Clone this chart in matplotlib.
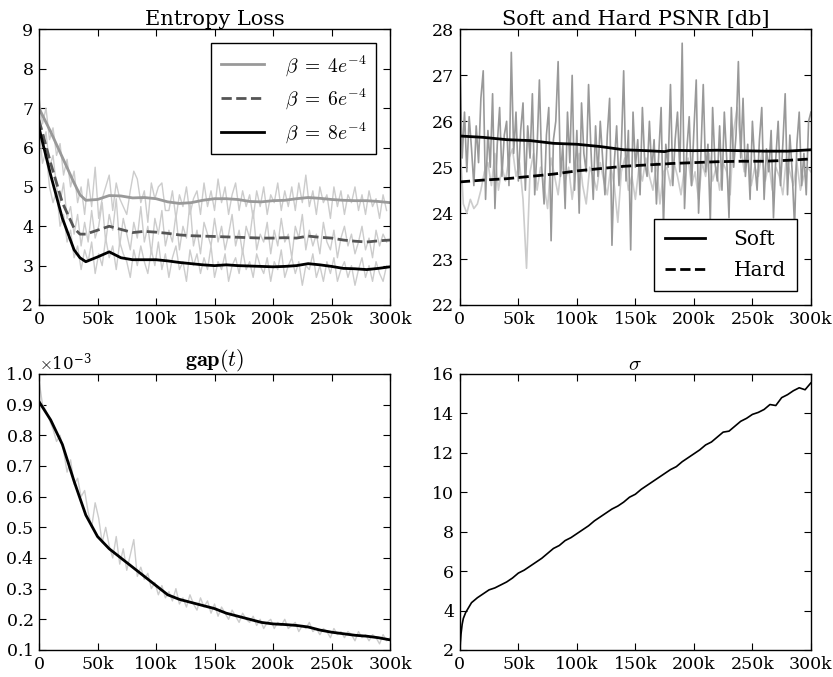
import numpy as np
import matplotlib
matplotlib.use("Agg")
import matplotlib.pyplot as plt
from matplotlib.ticker import FuncFormatter

# ---- data (steps in thousands) ----
ent_steps = [0, 10, 20, 30, 35, 40, 50, 60, 70, 80, 90, 100, 110, 120, 130, 140, 150,
             160, 170, 180, 190, 200, 210, 220, 230, 240, 250, 260, 270, 280, 290, 300]
ent_b4 = [7.0, 6.4, 5.75, 5.1, 4.8, 4.66, 4.68, 4.78, 4.77, 4.72, 4.73, 4.7, 4.62, 4.58,
          4.6, 4.66, 4.7, 4.7, 4.68, 4.63, 4.62, 4.65, 4.66, 4.7, 4.73, 4.71, 4.68, 4.66,
          4.65, 4.65, 4.63, 4.6]
ent_b6 = [6.7, 5.6, 4.6, 3.95, 3.8, 3.8, 3.9, 4.0, 3.92, 3.84, 3.87, 3.85, 3.82, 3.78,
          3.76, 3.75, 3.74, 3.73, 3.72, 3.71, 3.7, 3.7, 3.71, 3.7, 3.75, 3.72, 3.7, 3.65,
          3.62, 3.6, 3.63, 3.65]
ent_b8 = [6.5, 5.3, 4.2, 3.4, 3.2, 3.1, 3.22, 3.35, 3.2, 3.15, 3.15, 3.15, 3.12, 3.08,
          3.05, 3.02, 3.0, 3.02, 3.0, 2.99, 2.98, 2.97, 2.98, 3.0, 3.05, 3.02, 2.98, 2.93,
          2.92, 2.9, 2.93, 2.97]

raw_steps = list(range(0, 300, 3))
ent_b4_raw = [7.3, 6.6, 7.0, 6.2, 6.5, 5.8, 6.1, 5.3, 5.7, 5.0, 5.4, 4.6, 5.0, 4.3, 5.2,
              4.5, 5.5, 4.2, 4.7, 5.0, 5.3, 4.4, 5.1, 4.7, 4.5, 4.3, 4.9, 5.4, 5.2, 4.6,
              4.9, 4.1, 5.1, 4.7, 5.0, 5.1, 4.4, 4.4, 4.9, 4.2, 4.8, 4.5, 5.0, 4.3, 4.7,
              4.9, 4.3, 5.1, 4.5, 4.9, 4.4, 5.2, 4.6, 5.0, 4.3, 4.8, 5.1, 4.4, 4.9, 4.5,
              4.8, 4.2, 4.9, 4.5, 5.0, 4.3, 4.8, 4.6, 5.1, 4.4, 4.9, 4.5, 5.0, 4.4, 5.1,
              4.6, 5.3, 4.5, 4.9, 4.3, 5.0, 4.6, 4.8, 4.2, 5.0, 4.5, 4.9, 4.3, 4.8, 4.6,
              5.0, 4.4, 4.8, 4.3, 4.9, 4.5, 4.7, 4.2, 4.8, 4.4]
ent_b6_raw = [6.9, 6.0, 6.4, 5.5, 5.8, 5.0, 4.6, 5.1, 4.2, 4.5, 3.8, 4.3, 3.5, 4.1, 3.6,
              4.4, 3.7, 4.0, 4.6, 3.6, 4.3, 3.9, 4.7, 3.5, 4.2, 3.8, 3.4, 4.1, 3.7, 4.5,
              3.6, 4.0, 3.3, 4.2, 3.8, 4.4, 3.5, 3.9, 3.6, 4.3, 3.4, 4.0, 3.7, 4.6, 3.5,
              3.9, 3.3, 4.1, 3.8, 3.5, 4.2, 3.6, 4.0, 3.4, 3.8, 4.3, 3.5, 3.9, 3.3, 4.0,
              3.7, 4.4, 3.4, 3.8, 3.6, 4.1, 3.3, 3.9, 3.5, 4.2, 3.6, 3.8, 3.2, 4.0, 3.7,
              4.3, 3.4, 3.9, 3.5, 3.8, 3.3, 4.1, 3.6, 3.4, 3.9, 3.2, 3.7, 4.0, 3.5, 3.8,
              3.3, 3.6, 4.0, 3.4, 3.7, 3.2, 3.9, 3.5, 3.8, 3.6]
ent_b8_raw = [6.5, 5.6, 5.9, 5.0, 4.6, 4.9, 4.0, 4.3, 3.6, 3.9, 3.2, 3.5, 2.9, 3.4, 3.1,
              3.6, 2.8, 3.3, 3.0, 3.7, 3.2, 3.5, 2.9, 3.6, 3.3, 3.1, 2.7, 3.4, 3.0, 3.5,
              3.1, 2.8, 3.4, 3.0, 3.6, 2.9, 3.3, 2.7, 3.2, 3.5, 2.9, 3.1, 2.6, 3.4, 3.0,
              3.3, 2.8, 3.2, 2.9, 3.5, 2.7, 3.1, 2.9, 3.3, 2.6, 3.0, 3.2, 2.8, 3.4, 2.9,
              3.1, 2.7, 3.3, 3.0, 2.8, 3.2, 2.6, 3.1, 2.9, 3.4, 2.7, 3.0, 3.2, 2.8, 3.1,
              2.5, 3.0, 2.9, 3.3, 2.7, 3.0, 2.6, 3.1, 2.8, 3.2, 2.6, 2.9, 3.1, 2.7, 3.0,
              2.5, 2.9, 3.2, 2.7, 3.0, 2.6, 3.1, 2.8, 2.6, 3.0]

psnr_steps = [0, 20, 40, 60, 80, 100, 120, 140, 160, 175, 180, 200, 220, 240, 260, 280, 300]
psnr_soft = [25.68, 25.65, 25.6, 25.58, 25.52, 25.5, 25.45, 25.38, 25.36, 25.34, 25.37,
             25.36, 25.37, 25.36, 25.35, 25.35, 25.38]
psnr_hard = [24.68, 24.72, 24.75, 24.8, 24.85, 24.92, 24.97, 25.02, 25.05, 25.07, 25.08,
             25.1, 25.12, 25.13, 25.13, 25.15, 25.18]

soft_raw_steps = list(range(0, 302, 2))
psnr_soft_raw = [27.4, 25.2, 26.2, 24.9, 26.1, 25.4, 24.6, 25.9, 25.1, 26.5,
                 27.1, 24.3, 25.8, 25.0, 26.6, 24.1, 25.5, 26.3, 24.8, 25.7,
                 26.0, 24.6, 27.5, 25.3, 26.2, 24.7, 25.8, 26.4, 24.5, 25.9,
                 25.2, 26.6, 24.4, 25.4, 26.9, 25.0, 24.2, 25.7, 26.3, 23.4,
                 25.6, 26.0, 27.3, 24.8, 25.5, 24.1, 26.2, 25.1, 27.0, 24.5,
                 25.8, 24.0, 26.4, 25.3, 24.9, 26.8, 25.4, 24.3, 25.9, 24.8,
                 26.0, 25.2, 24.4, 25.7, 26.5, 23.3, 25.1, 25.9, 24.6, 25.4,
                 27.1, 24.7, 25.8, 23.2, 26.2, 25.0, 25.6, 24.4, 26.3, 25.1,
                 24.8, 26.0, 24.9, 25.6, 24.2, 25.3, 26.3, 23.7, 25.5, 25.0,
                 26.8, 24.6, 25.6, 26.2, 24.9, 27.7, 24.1, 25.4, 26.1, 24.6,
                 25.8, 26.9, 24.0, 25.3, 26.8, 24.9, 25.5, 23.8, 26.3, 25.1,
                 24.7, 25.9, 24.5, 26.2, 25.2, 23.9, 26.3, 25.0, 25.7, 27.3,
                 25.2, 26.5, 24.8, 25.5, 24.3, 26.0, 25.1, 24.5, 25.6, 26.3,
                 24.3, 25.4, 24.9, 25.8, 23.9, 25.2, 26.0, 24.6, 25.5, 26.6,
                 24.4, 25.7, 24.9, 23.7, 25.5, 26.2, 24.6, 25.3, 24.4, 26.0,
                 26.2]
hard_raw_steps = list(range(0, 303, 3))
psnr_hard_raw = [25.6, 24.2, 24.0, 24.3, 24.1, 24.2, 24.5, 24.9, 25.1, 24.6,
                 25.3, 24.5, 25.0, 24.7, 25.2, 25.4, 24.8, 25.1, 24.3, 22.8,
                 24.9, 25.3, 24.5, 25.0, 24.6, 24.1, 25.2, 24.8, 24.4, 25.1,
                 24.7, 25.0, 24.3, 24.9, 25.3, 24.6, 24.2, 25.0, 24.8, 24.5,
                 25.1, 24.7, 24.4, 25.0, 24.6, 23.8, 24.9, 25.2, 24.5, 24.8,
                 24.3, 25.0, 24.7, 25.2, 24.8, 24.5, 25.1, 24.2, 24.9, 25.0,
                 24.6, 25.1, 24.8, 24.4, 25.0, 25.2, 24.6, 24.9, 24.3, 25.1,
                 24.8, 25.3, 24.7, 25.0, 24.5, 25.1, 24.9, 24.4, 25.8, 26.3,
                 25.5, 24.9, 25.2, 24.6, 25.0, 24.8, 25.3, 24.7, 25.1, 24.5,
                 25.0, 24.8, 24.4, 25.2, 24.9, 24.6, 25.1, 24.5, 24.8, 25.0,
                 24.9]

gap_steps = [0, 10, 20, 30, 40, 50, 60, 70, 80, 90, 100, 110, 120, 130, 140, 150, 160,
             170, 180, 190, 200, 210, 220, 230, 240, 250, 260, 270, 280, 290, 300]
gap_smooth = [0.91, 0.85, 0.77, 0.65, 0.54, 0.47, 0.43, 0.40, 0.37, 0.34, 0.31, 0.28,
              0.265, 0.255, 0.245, 0.235, 0.22, 0.21, 0.20, 0.19, 0.185, 0.183, 0.18,
              0.175, 0.165, 0.158, 0.153, 0.148, 0.145, 0.14, 0.133]
gap_raw_steps = list(range(0, 303, 3))
gap_raw = [0.98, 0.90, 0.88, 0.85, 0.82, 0.78, 0.80, 0.75, 0.68, 0.72,
           0.64, 0.66, 0.60, 0.62, 0.55, 0.50, 0.58, 0.53, 0.45, 0.50,
           0.44, 0.40, 0.47, 0.38, 0.43, 0.36, 0.41, 0.46, 0.34, 0.37,
           0.33, 0.35, 0.30, 0.32, 0.28, 0.31, 0.27, 0.29, 0.26, 0.30,
           0.25, 0.27, 0.24, 0.28, 0.25, 0.23, 0.27, 0.24, 0.26, 0.22,
           0.25, 0.21, 0.24, 0.22, 0.20, 0.23, 0.21, 0.19, 0.22, 0.20,
           0.19, 0.21, 0.18, 0.20, 0.17, 0.19, 0.20, 0.17, 0.19, 0.18,
           0.20, 0.17, 0.18, 0.19, 0.16, 0.18, 0.17, 0.19, 0.16, 0.17,
           0.15, 0.17, 0.16, 0.14, 0.17, 0.15, 0.16, 0.14, 0.16, 0.15,
           0.13, 0.16, 0.14, 0.15, 0.13, 0.15, 0.14, 0.12, 0.15, 0.13,
           0.14]
gap_ticks = [0.1, 0.2, 0.3, 0.4, 0.5, 0.6, 0.7, 0.8, 0.9, 1.0]

sigma_steps = [0, 1, 2, 3, 5] + list(range(10, 305, 5))
sigma = [2.0, 2.8, 3.3, 3.6, 3.9, 4.4, 4.65, 4.85, 5.05, 5.15, 5.3, 5.45, 5.65, 5.9,
         6.05, 6.25, 6.45, 6.65, 6.9, 7.15, 7.3, 7.55, 7.7, 7.9, 8.1, 8.3, 8.55, 8.75,
         8.95, 9.15, 9.3, 9.5, 9.75, 9.9, 10.15, 10.35, 10.55, 10.75, 10.95, 11.15,
         11.3, 11.55, 11.75, 11.95, 12.15, 12.4, 12.55, 12.8, 13.05, 13.1, 13.35, 13.6,
         13.75, 13.95, 14.05, 14.2, 14.45, 14.4, 14.8, 14.95, 15.15, 15.3, 15.2, 15.55]

# ---- style ----
plt.rcParams["font.family"] = ["DejaVu Serif"]
plt.rcParams["mathtext.fontset"] = "cm"
plt.rcParams["xtick.direction"] = "in"
plt.rcParams["ytick.direction"] = "in"
plt.rcParams["xtick.top"] = True
plt.rcParams["ytick.right"] = True
plt.rcParams["xtick.major.size"] = 5
plt.rcParams["ytick.major.size"] = 5
plt.rcParams["xtick.major.pad"] = 4
plt.rcParams["ytick.major.pad"] = 4
plt.rcParams["xtick.labelsize"] = 12.5
plt.rcParams["ytick.labelsize"] = 12.5
plt.rcParams["axes.linewidth"] = 1.0
plt.rcParams["legend.fancybox"] = False
plt.rcParams["legend.edgecolor"] = "black"
plt.rcParams["legend.framealpha"] = 1.0

fig = plt.figure(figsize=(8.33, 6.77), dpi=100)
ax1 = fig.add_axes([0.0468, 0.5495, 0.4215, 0.407])
ax2 = fig.add_axes([0.552, 0.5495, 0.4215, 0.407])
ax3 = fig.add_axes([0.0468, 0.0399, 0.4215, 0.4077])
ax4 = fig.add_axes([0.552, 0.0399, 0.4215, 0.4077])

kfmt = FuncFormatter(lambda v, p: "0" if v == 0 else f"{int(v)}k")
light = "#cccccc"

# Entropy loss
for raw in (ent_b4_raw, ent_b6_raw, ent_b8_raw):
    ax1.plot(raw_steps, raw, color=light, lw=1)
ax1.plot(ent_steps, ent_b4, color="#999999", lw=2, label=r"$\beta\;=\;4e^{-4}$")
ax1.plot(ent_steps, ent_b6, color="#555555", lw=2, ls="--", label=r"$\beta\;=\;6e^{-4}$")
ax1.plot(ent_steps, ent_b8, color="black", lw=2, label=r"$\beta\;=\;8e^{-4}$")
ax1.set_xlim(0, 300)
ax1.set_ylim(2, 9)
ax1.set_title("Entropy Loss", fontsize=15, pad=3)
ax1.legend(loc="upper right", fontsize=14, handlelength=2.2, handletextpad=1.1,
           borderpad=0.5, labelspacing=0.45, borderaxespad=0.7)

# PSNR
ax2.plot(hard_raw_steps, psnr_hard_raw, color="#cccccc", lw=1.2)
ax2.plot(soft_raw_steps, psnr_soft_raw, color="#999999", lw=1.2)
ax2.plot(psnr_steps, psnr_soft, color="black", lw=2, label="Soft")
ax2.plot(psnr_steps, psnr_hard, color="black", lw=2, ls="--", label="Hard")
ax2.set_xlim(0, 300)
ax2.set_ylim(22, 28)
ax2.set_title("Soft and Hard PSNR [db]", fontsize=15, pad=3)
ax2.legend(loc="lower right", fontsize=14.5, handlelength=2.0, handletextpad=1.4,
           borderpad=0.55, labelspacing=0.6, borderaxespad=0.7)

# gap(t)
ax3.plot(gap_raw_steps, np.array(gap_raw) * 1e-3, color=light, lw=1)
ax3.plot(gap_steps, np.array(gap_smooth) * 1e-3, color="black", lw=2)
ax3.set_xlim(0, 300)
ax3.set_ylim(0.1e-3, 1.0e-3)
ax3.set_yticks(np.array(gap_ticks) * 1e-3)
ax3.set_title(r"$\mathbf{gap}(t)$", fontsize=16, pad=3)
ax3.ticklabel_format(axis="y", style="sci", scilimits=(0, 0), useMathText=True)
ax3.yaxis.get_offset_text().set_fontsize(12)

# sigma
ax4.plot(sigma_steps, sigma, color="black", lw=1.2)
ax4.set_xlim(0, 300)
ax4.set_ylim(2, 16)
ax4.set_title(r"$\sigma$", fontsize=15, pad=3)

for ax in (ax1, ax2, ax3, ax4):
    ax.set_xticks([0, 50, 100, 150, 200, 250, 300])
    ax.xaxis.set_major_formatter(kfmt)

fig.savefig("out.png", dpi=100)
